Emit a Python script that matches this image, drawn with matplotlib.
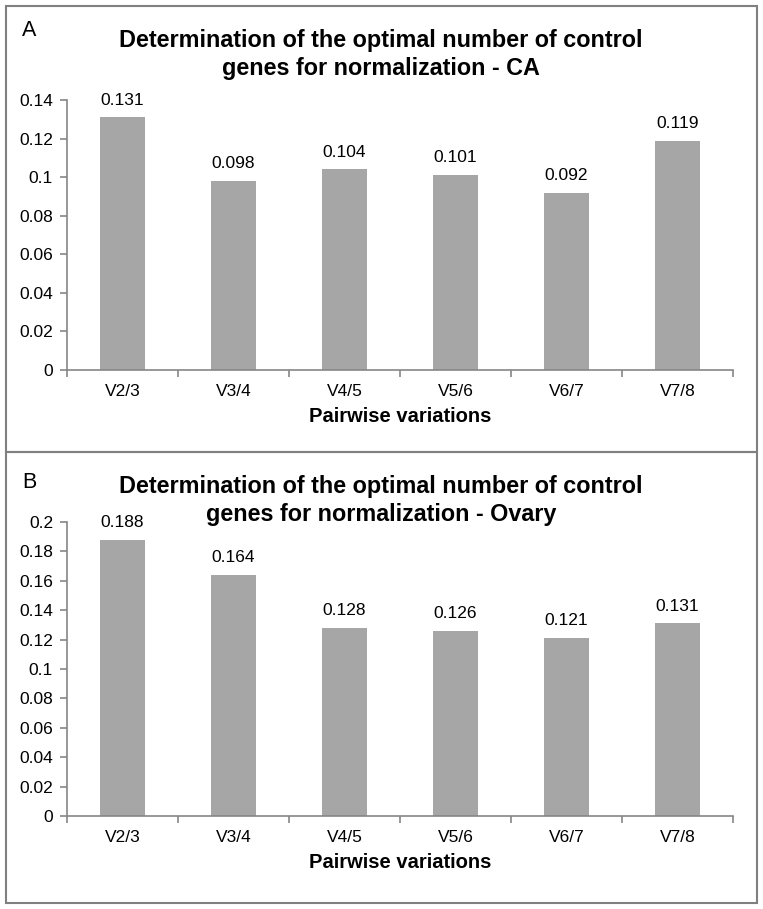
import matplotlib
matplotlib.use("Agg")
import matplotlib.pyplot as plt
from matplotlib.patches import Rectangle

plt.rcParams['font.family'] = ['Liberation Sans', 'DejaVu Sans']

categories = ["V2/3", "V3/4", "V4/5", "V5/6", "V6/7", "V7/8"]
values_ca = [0.131, 0.098, 0.104, 0.101, 0.092, 0.119]
values_ovary = [0.188, 0.164, 0.128, 0.126, 0.121, 0.131]
ticks_ca = [0, 0.02, 0.04, 0.06, 0.08, 0.1, 0.12, 0.14]
ticks_ovary = [0, 0.02, 0.04, 0.06, 0.08, 0.1, 0.12, 0.14, 0.16, 0.18, 0.2]
title_ca = ["Determination of the optimal number of control",
            "genes for normalization - CA"]
title_ovary = ["Determination of the optimal number of control",
               "genes for normalization - Ovary"]
xlabel = "Pairwise variations"

W, H = 763, 909
fig = plt.figure(figsize=(W/100, H/100), dpi=100)

bar_color = "#A6A6A6"
axis_color = "#868686"

def fmt(v):
    return "%g" % v

def panel(letter, title, values, ticks, box_top, box_bot, y0_px, ytop_px, letter_y):
    fig.patches.append(Rectangle((6/W, 1 - box_bot/H), (757-6)/W, (box_bot-box_top)/H,
                                 transform=fig.transFigure, fill=False,
                                 edgecolor="#808080", linewidth=1.5))
    ax = fig.add_axes([67/W, 1 - y0_px/H, 666/W, (y0_px-ytop_px)/H])
    x = list(range(len(categories)))
    ax.bar(x, values, width=0.41, color=bar_color, edgecolor="none")
    ax.set_xlim(-0.5, len(categories)-0.5)
    ax.set_ylim(0, ticks[-1])
    ax.set_yticks(ticks)
    ax.set_yticklabels([fmt(t) for t in ticks], fontsize=12.5)
    ax.set_xticks([i - 0.5 for i in range(len(categories)+1)])
    ax.set_xticklabels([])
    ax.set_xticks(x, minor=True)
    ax.set_xticklabels(categories, minor=True, fontsize=12.5)
    ax.tick_params(axis='x', which='minor', length=0, pad=10)
    ax.tick_params(axis='x', which='major', length=5, color=axis_color, width=1.2, direction='out')
    ax.tick_params(axis='y', length=5, color=axis_color, width=1.2, direction='out', pad=5)
    for s in ['top', 'right']:
        ax.spines[s].set_visible(False)
    for s in ['left', 'bottom']:
        ax.spines[s].set_color(axis_color)
        ax.spines[s].set_linewidth(1.2)
    for xi, v in zip(x, values):
        ax.annotate(fmt(v), (xi, v), xytext=(0, 7), textcoords='offset points',
                    ha='center', va='bottom', fontsize=12.5)
    ax.set_xlabel(xlabel, fontsize=14.5, fontweight='bold', labelpad=6)
    for i, line in enumerate(title):
        fig.text(381/W, 1 - (box_top + 34 + 28*i)/H, line, ha='center', va='center',
                 fontsize=16.8, fontweight='bold')
    fig.text(22/W, 1 - letter_y/H, letter, ha='left', va='center', fontsize=15.5)

panel("A", title_ca, values_ca, ticks_ca, 6, 452, 370, 100, 30)
panel("B", title_ovary, values_ovary, ticks_ovary, 452, 903, 816, 522, 482)

fig.savefig("out.png", dpi=100)
